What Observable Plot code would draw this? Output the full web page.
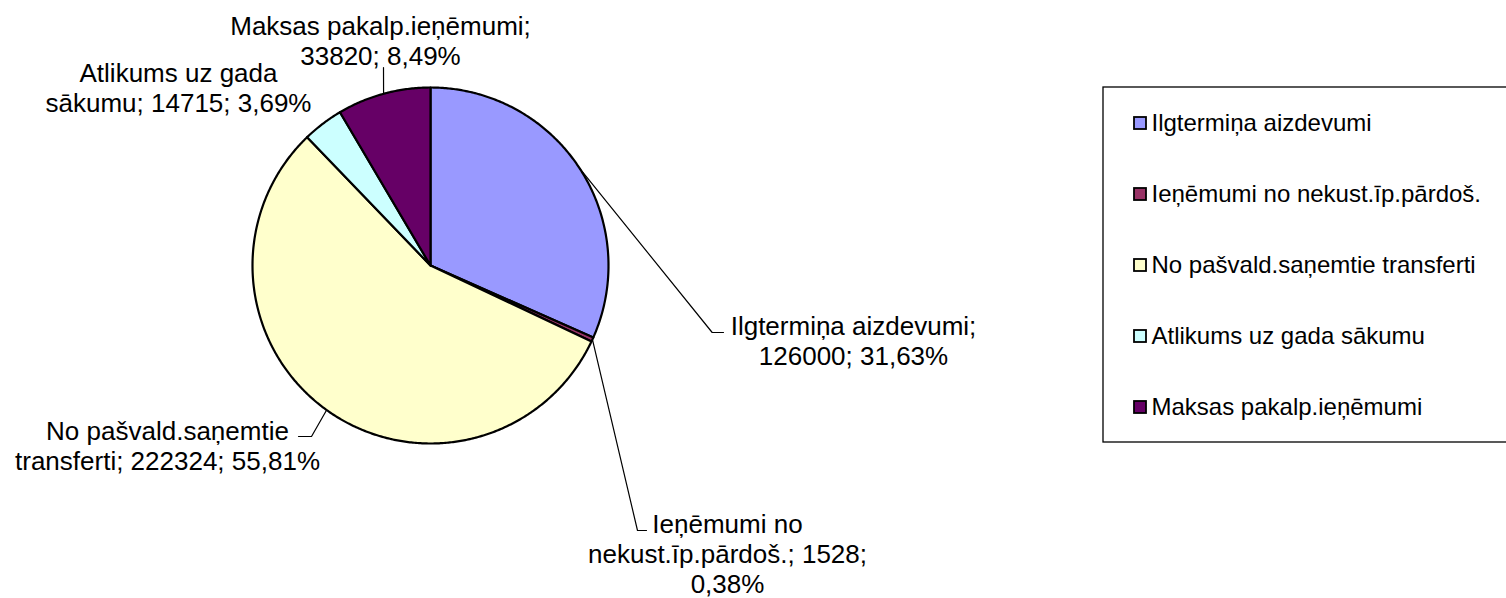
<!DOCTYPE html>
<html><head><meta charset="utf-8">
<script src="https://cdn.jsdelivr.net/npm/d3@7"></script>
<script src="https://cdn.jsdelivr.net/npm/@observablehq/plot@0.6"></script>
<style>
html,body{margin:0;padding:0;background:#fff;}
svg{display:block;}
</style>
</head><body><div id="chart"></div>
<script>
// ---- data ----
const categories = ["Ilgtermiņa aizdevumi", "Ieņēmumi no nekust.īp.pārdoš.", "No pašvald.saņemtie transferti", "Atlikums uz gada sākumu", "Maksas pakalp.ieņēmumi"];
const values = [126000, 1528, 222324, 14715, 33820];
const colors = ["#9999FF", "#993366", "#FFFFCC", "#CCFFFF", "#660066"];

// ---- layout ----
const W = 1506, H = 598;
const cx = 430, cy = 265, R = 178;
const FONT = "Liberation Sans, Arial, Helvetica, sans-serif";
// word index after which a label line breaks
const labelBreaks = [[2], [2, 4], [2], [3], [2]];
// label anchor (top-centre of text block)
const labelPos = [[853, 313.5], [727, 511], [167, 418.5], [178, 60.5], [380, 13.5]];
// leader line elbows after the slice mid-point on the arc
const leaderElbows = [[[711.7, 332], [723, 332]], [[637, 530], [646, 530]], [[311, 436], [298, 436]], null, [[383, 67]]];

const total = d3.sum(values);
const fmtPct = v => (v / total * 100).toFixed(2).replace(".", ",") + "%";

// slice polygons
let start = 0;
const slicePts = [], mids = [];
categories.forEach((c, i) => {
  const a0 = start, a1 = start + values[i] / total * 2 * Math.PI;
  start = a1;
  mids.push((a0 + a1) / 2);
  slicePts.push({name: c, x: cx, y: cy});
  const n = Math.max(2, Math.ceil((a1 - a0) / (Math.PI / 360)));
  for (let k = 0; k <= n; k++) {
    const a = a0 + (a1 - a0) * k / n;
    slicePts.push({name: c, x: cx + R * Math.sin(a), y: cy - R * Math.cos(a)});
  }
  slicePts.push({name: c, x: cx, y: cy});
});

// labels
const labels = categories.map((c, i) => {
  const words = `${c}; ${values[i]}; ${fmtPct(values[i])}`.split(" ");
  const br = labelBreaks[i];
  let lines = [], cur = [];
  words.forEach((w, k) => { cur.push(w); if (br.includes(k + 1)) { lines.push(cur.join(" ")); cur = []; } });
  if (cur.length) lines.push(cur.join(" "));
  return {text: lines.join("\n"), x: labelPos[i][0], y: labelPos[i][1]};
});

// leader lines
const leaders = [];
categories.forEach((c, i) => {
  if (!leaderElbows[i]) return;
  const a = mids[i];
  leaders.push({id: i, x: cx + R * Math.sin(a), y: cy - R * Math.cos(a)});
  leaderElbows[i].forEach(([x, y]) => leaders.push({id: i, x, y}));
});

// legend
const legendBox = [{x1: 1103, x2: 1515, y1: 87, y2: 442}];
const legendRows = categories.map((c, i) => ({name: c, y: 123 + i * 71}));

const chart = Plot.plot({
  width: W, height: H,
  margin: 0,
  x: {domain: [0, W], range: [0, W], axis: null},
  y: {domain: [0, H], range: [0, H], axis: null},
  color: {domain: categories, range: colors},
  style: {fontFamily: FONT, background: "#fff"},
  marks: [
    Plot.line(slicePts, {x: "x", y: "y", z: "name", fill: "name", stroke: "#000", strokeWidth: 2.2, strokeLinejoin: "round", curve: "linear"}),
    Plot.line(leaders, {x: "x", y: "y", z: "id", stroke: "#000", strokeWidth: 1.2}),
    Plot.text(labels, {x: "x", y: "y", text: "text", textAnchor: "middle", lineAnchor: "top", fontSize: 26, lineHeight: 30 / 26, fill: "#000", fontFamily: FONT}),
    Plot.rect(legendBox, {x1: "x1", x2: "x2", y1: "y1", y2: "y2", fill: "none", stroke: "#000", strokeWidth: 1.3}),
    Plot.rect(legendRows, {x1: 1134, x2: 1146, y1: d => d.y - 6, y2: d => d.y + 6, fill: "name", stroke: "#000", strokeWidth: 1.8}),
    Plot.text(legendRows, {x: 1151, y: "y", text: "name", textAnchor: "start", fontSize: 24, fill: "#000", fontFamily: FONT})
  ]
});
document.getElementById("chart").append(chart);
</script>
</body></html>
